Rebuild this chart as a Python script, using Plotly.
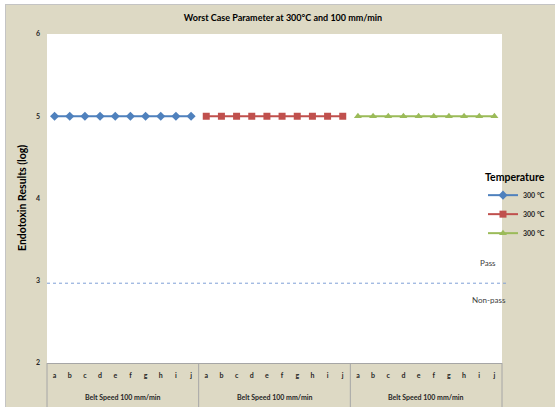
import plotly.graph_objects as go

# Sample letters within each belt-speed group
letters = ["a", "b", "c", "d", "e", "f", "g", "h", "i", "j"]
group_labels = ["Belt Speed 100 mm/min", "Belt Speed 100 mm/min", "Belt Speed 100 mm/min"]
series_names = ["300 °C", "300 °C", "300 °C"]

# Endotoxin log results per run (one series per group)
run1 = [5, 5, 5, 5, 5, 5, 5, 5, 5, 5]
run2 = [5, 5, 5, 5, 5, 5, 5, 5, 5, 5]
run3 = [5, 5, 5, 5, 5, 5, 5, 5, 5, 5]
pass_threshold = 2.97
y_ticks = [2, 3, 4, 5, 6]

series_values = [run1, run2, run3]
colors = ["#4F81BD", "#C0504D", "#9BBB59"]
symbols = ["diamond", "square", "triangle-up"]

BEIGE = "#DDD9C4"
FONT = "Lato"
W, H = 555, 407
ML, MR, MT, MB = 47, 53, 34, 44
PW, PH = W - ML - MR, H - MT - MB
n_per = len(letters)
n_total = n_per * len(group_labels)


def px_x(px):
    return (px - ML) / PW


def px_y(py):
    return (H - MB - py) / PH


fig = go.Figure()
for g, (vals, name, col, sym) in enumerate(zip(series_values, series_names, colors, symbols)):
    xs = [g * n_per + i for i in range(n_per)]
    fig.add_trace(go.Scatter(
        x=xs, y=vals, name=name, mode="lines+markers",
        line=dict(color=col, width=2),
        marker=dict(symbol=sym, size=7, color=col),
    ))

shapes = []
# white margin strips on the left and top edges, with a thin gray edge line
shapes.append(dict(type="rect", xref="paper", yref="paper",
                   x0=px_x(0), x1=px_x(5), y0=px_y(H), y1=px_y(0),
                   line=dict(width=0), fillcolor="white", layer="above"))
shapes.append(dict(type="rect", xref="paper", yref="paper",
                   x0=px_x(0), x1=px_x(W), y0=px_y(4), y1=px_y(0),
                   line=dict(width=0), fillcolor="white", layer="above"))
shapes.append(dict(type="line", xref="paper", yref="paper",
                   x0=px_x(5.5), x1=px_x(5.5), y0=px_y(4), y1=px_y(H),
                   line=dict(color="#C4C4C4", width=1)))
shapes.append(dict(type="line", xref="paper", yref="paper",
                   x0=px_x(5), x1=px_x(W), y0=px_y(4.5), y1=px_y(4.5),
                   line=dict(color="#C4C4C4", width=1)))
# group dividers under the category axis
for k in range(len(group_labels) + 1):
    xp = k * n_per / n_total
    shapes.append(dict(type="line", xref="paper", yref="paper",
                       x0=xp, x1=xp, y0=0, y1=px_y(H),
                       line=dict(color="#A6A6A6", width=1)))
# pass / non-pass threshold
yp = (pass_threshold - y_ticks[0]) / (y_ticks[-1] - y_ticks[0])
shapes.append(dict(type="line", xref="paper", yref="paper",
                   x0=0, x1=px_x(509), y0=yp, y1=yp,
                   line=dict(color="#7F9FD6", width=1, dash="dot")))

annotations = []
for g, lab in enumerate(group_labels):
    annotations.append(dict(x=(g + 0.5) * n_per / n_total, y=px_y(397), xref="paper", yref="paper",
                            xanchor="center", yanchor="middle",
                            text=lab, showarrow=False,
                            font=dict(family=FONT, size=7, color="#262626", weight="bold")))
annotations.append(dict(x=px_x(22), y=px_y(198), xref="paper", yref="paper", textangle=-90,
                        xanchor="center", yanchor="middle",
                        text="Endotoxin Results (log)", showarrow=False,
                        font=dict(family=FONT, size=10.5, color="#000000", weight="bold")))
annotations.append(dict(x=px_x(488), y=px_y(263), xref="paper", yref="paper", text="Pass",
                        xanchor="center", yanchor="middle",
                        showarrow=False, font=dict(family=FONT, size=8, color="#404040")))
annotations.append(dict(x=px_x(489), y=px_y(300), xref="paper", yref="paper", text="Non-pass",
                        xanchor="center", yanchor="middle",
                        showarrow=False, font=dict(family=FONT, size=8, color="#404040")))

fig.update_layout(
    width=W, height=H,
    margin=dict(l=ML, r=MR, t=MT, b=MB, autoexpand=False),
    paper_bgcolor=BEIGE, plot_bgcolor="white",
    title=dict(text="Worst Case Parameter at 300°C and 100 mm/min",
               x=px_x(283), xref="paper", xanchor="center",
               y=1 - 18 / H, yref="container", yanchor="middle",
               font=dict(family=FONT, size=9, color="#000000", weight="bold")),
    xaxis=dict(range=[-0.5, n_total - 0.5],
               tickvals=list(range(n_total)), ticktext=letters * len(group_labels),
               showgrid=False, zeroline=False, showline=True, linecolor="#A6A6A6", linewidth=1,
               ticks="", ticklabelstandoff=6,
               tickfont=dict(family=FONT, size=7, color="#262626", weight="bold")),
    yaxis=dict(range=[y_ticks[0], y_ticks[-1]], tickvals=y_ticks,
               showgrid=False, zeroline=False, showline=False, ticks="", ticklabelstandoff=6,
               tickfont=dict(family=FONT, size=7, color="#262626", weight="bold")),
    legend=dict(x=px_x(483), xanchor="left", y=px_y(167), yanchor="top",
                bgcolor="rgba(0,0,0,0)", borderwidth=0,
                title=dict(text="Temperature",
                           font=dict(family=FONT, size=10.5, color="#000000", weight="bold")),
                font=dict(family=FONT, size=7, color="#262626", weight="bold"),
                tracegroupgap=0),
    shapes=shapes, annotations=annotations,
    showlegend=True,
)

fig.write_html("out.html")
